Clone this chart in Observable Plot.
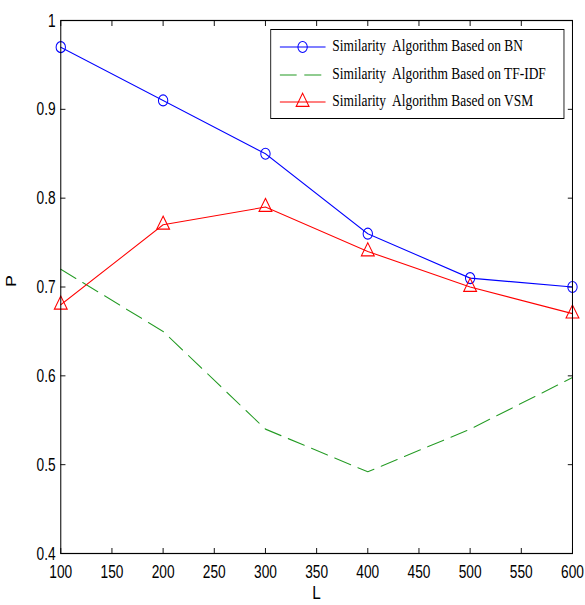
<!DOCTYPE html>
<html><head><meta charset="utf-8">
<script src="https://cdn.jsdelivr.net/npm/d3@7"></script>
<script src="https://cdn.jsdelivr.net/npm/@observablehq/plot@0.6"></script>
<style>
body{margin:0;background:#fff;overflow:hidden;}
#outer{width:585px;height:605px;overflow:hidden;position:relative;}
#wrap{position:absolute;left:0;top:0;width:688px;height:605px;transform:scaleX(0.85);transform-origin:0 0;}
#legend{position:absolute;left:318px;top:29px;width:346px;height:90px;border:1px solid #000;background:#fff;box-sizing:border-box;font-family:"Liberation Serif","Times New Roman",serif;font-size:15.8px;color:#000;}
.row{position:absolute;left:0;height:20px;width:100%;}
.row svg{position:absolute;left:10px;top:0;}
.row span{position:absolute;left:72px;top:0px;white-space:pre;}
</style></head>
<body><div id="outer"><div id="wrap"></div></div>
<script>
const L = [100, 200, 300, 400, 500, 600];
const bn = [0.97, 0.91, 0.85, 0.76, 0.71, 0.70];
const tfidf = [0.72, 0.65, 0.54, 0.492, 0.54, 0.598];
const vsm = [0.68, 0.77, 0.79, 0.74, 0.70, 0.67];
const xTicks = [100, 150, 200, 250, 300, 350, 400, 450, 500, 550, 600];
const yTicks = [0.4, 0.5, 0.6, 0.7, 0.8, 0.9, 1];
const names = ["Similarity  Algorithm Based on BN", "Similarity  Algorithm Based on TF-IDF", "Similarity  Algorithm Based on VSM"];
const colors = ["#0000ff", "#229a22", "#ff0000"];
const xLabel = "L";
const yLabel = "P";

const rows = (vals) => L.map((x, i) => ({L: x, P: vals[i]}));
const dBN = rows(bn), dTF = rows(tfidf), dVSM = rows(vsm);
const tickFont = "'Liberation Sans', Arial, sans-serif";

const chart = Plot.plot({
  width: 688, height: 605,
  marginLeft: 71, marginRight: 15, marginTop: 20, marginBottom: 52,
  x: {domain: [100, 600]},
  y: {domain: [0.4, 1]},
  style: {fontFamily: tickFont, fontSize: "19px", color: "#000", background: "#fff"},
  marks: [
    Plot.axisX(xTicks, {anchor: "bottom", tickSize: -5, tickPadding: 16, label: null, tickFormat: d => String(d), fontSize: 19, fontFamily: tickFont}),
    Plot.axisX(xTicks, {anchor: "top", tickSize: -5, label: null, tickFormat: () => ""}),
    Plot.axisY(yTicks, {anchor: "left", tickSize: -6, tickPadding: 12, label: null, tickFormat: d => d === 1 ? "1" : d.toFixed(1), fontSize: 19, fontFamily: tickFont}),
    Plot.axisY(yTicks, {anchor: "right", tickSize: -6, label: null, tickFormat: () => ""}),
    Plot.line(dTF, {x: "L", y: "P", stroke: colors[1], strokeWidth: 1.1, strokeDasharray: "20,9"}),
    Plot.line(dBN, {x: "L", y: "P", stroke: colors[0], strokeWidth: 1.1}),
    Plot.dot(dBN, {x: "L", y: "P", stroke: colors[0], fill: "none", r: 5.5, strokeWidth: 1.2}),
    Plot.line(dVSM, {x: "L", y: "P", stroke: colors[2], strokeWidth: 1.1}),
    Plot.dot(dVSM, {x: "L", y: "P", stroke: colors[2], fill: "none", symbol: "triangle", r: 5.6, strokeWidth: 1.2}),
    Plot.frame({stroke: "#000", strokeWidth: 1.2}),
    Plot.text([xLabel], {frameAnchor: "bottom", dy: 45, fontSize: 18, fontFamily: tickFont, ariaLabel: "x-label"}),
    Plot.text([yLabel], {frameAnchor: "left", dx: -58, rotate: -90, fontSize: 18, fontFamily: tickFont})
  ]
});

// condense the tick label glyphs horizontally (narrow Helvetica look)
const squeeze = 0.85;
chart.querySelectorAll('g[aria-label="x-axis tick label"] text, g[aria-label="y-axis tick label"] text, g[aria-label="x-label"] text').forEach(t => {
  const tr = t.getAttribute("transform");
  if (tr) t.setAttribute("transform", tr + ` scale(${squeeze},1)`);
  else {
    const x = +t.getAttribute("x") || 0, y = +t.getAttribute("y") || 0;
    t.setAttribute("transform", `translate(${x},${y}) scale(${squeeze},1) translate(${-x},${-y})`);
  }
});

const wrap = document.getElementById("wrap");
wrap.appendChild(chart);

// legend
const leg = document.createElement("div");
leg.id = "legend";
const rowTops = [7, 35, 62];
names.forEach((n, i) => {
  const r = document.createElement("div");
  r.className = "row";
  r.style.top = rowTops[i] + "px";
  let sample;
  if (i === 0) sample = `<line x1="0" y1="10" x2="54" y2="10" stroke="${colors[0]}" stroke-width="1.1"/><circle cx="27" cy="10" r="5.5" fill="none" stroke="${colors[0]}" stroke-width="1.2"/>`;
  else if (i === 1) sample = `<line x1="0" y1="10" x2="54" y2="10" stroke="${colors[1]}" stroke-width="1.1" stroke-dasharray="20,9"/>`;
  else sample = `<line x1="0" y1="10" x2="54" y2="10" stroke="${colors[2]}" stroke-width="1.1"/><path d="${d3.symbol(d3.symbolTriangle, Math.PI * 5.6 * 5.6)()}" transform="translate(27,10)" fill="none" stroke="${colors[2]}" stroke-width="1.2"/>`;
  r.innerHTML = `<svg width="56" height="20">${sample}</svg><span>${n}</span>`;
  leg.appendChild(r);
});
wrap.appendChild(leg);
</script>
</body></html>
